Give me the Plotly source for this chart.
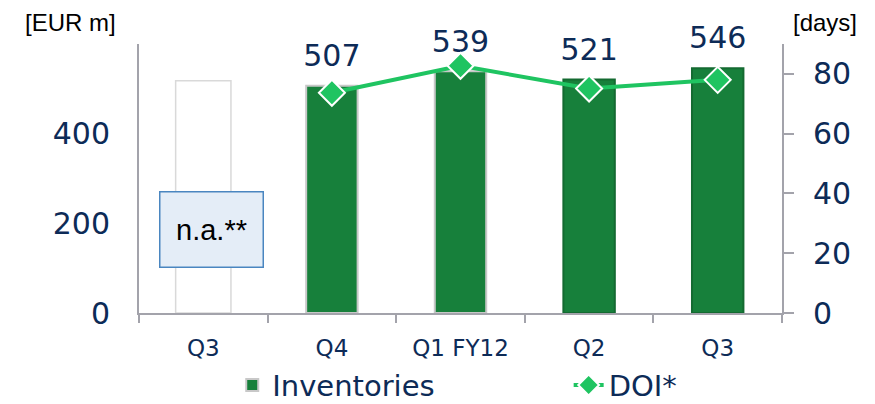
import plotly.graph_objects as go

# data
categories = ["Q3 FY11", "Q4", "Q1 FY12", "Q2", "Q3"]
tick_labels = ["Q3", "Q4", "Q1 FY12", "Q2", "Q3"]
inventories = [None, 507, 539, 521, 546]
placeholder = [518, None, None, None, None]
doi = [None, 73.7, 82.7, 75.1, 78.0]

NAVY = "#0d2b57"
GREEN = "#17803b"
LINE_GREEN = "#1fc461"
AXIS_GREY = "#a3a3ab"
FONT = "DejaVu Sans"
FONT2 = "Liberation Sans"

fig = go.Figure()

# empty frame for the n.a. quarter
fig.add_trace(go.Bar(
    x=categories, y=placeholder, width=0.43,
    marker=dict(color="rgba(255,255,255,0)", line=dict(color="#d9d9d9", width=1.5)),
    showlegend=False, hoverinfo="skip",
))

fig.add_trace(go.Bar(
    x=categories, y=inventories, width=0.4, name="Inventories" + " " * 14,
    marker=dict(color=GREEN,
                line=dict(color=["#c8c8c8", "#c8c8c8", "#c8c8c8", "#146a31", "#146a31"], width=2)),
))

# value labels above the bars
fig.add_trace(go.Scatter(
    x=categories, y=inventories, mode="markers+text",
    text=[None if v is None else str(v) for v in inventories],
    textposition="top center", cliponaxis=False,
    marker=dict(size=18, opacity=0),
    textfont=dict(size=30, color=NAVY, family=FONT),
    showlegend=False, hoverinfo="skip",
))

fig.add_trace(go.Scatter(
    x=categories, y=doi, name="DOI*", yaxis="y2",
    mode="lines+markers",
    line=dict(color=LINE_GREEN, width=4),
    marker=dict(symbol="diamond", size=20, color=LINE_GREEN, line=dict(color="white", width=2)),
))

# page body has an 8px margin, so the figure is 8px smaller than the window
fig.update_layout(
    width=867, height=396,
    margin=dict(l=131, r=93, t=36, b=91, autoexpand=False),
    paper_bgcolor="white", plot_bgcolor="white",
    font=dict(family=FONT, color=NAVY),
    barmode="overlay",
    legend=dict(orientation="h", x=0.145, xanchor="left", y=-0.268, yanchor="middle",
                font=dict(size=29, color=NAVY), borderwidth=0),
    xaxis=dict(
        type="category", categoryorder="array", categoryarray=categories,
        tickmode="array", tickvals=categories, ticktext=tick_labels,
        tickson="boundaries", ticks="outside", ticklen=8, tickcolor=AXIS_GREY, tickwidth=2,
        showline=True, linecolor=AXIS_GREY, linewidth=2,
        tickfont=dict(size=23, color=NAVY), showgrid=False, ticklabelstandoff=13,
    ),
    yaxis=dict(
        range=[0, 600], tickvals=[0, 200, 400], showgrid=False, zeroline=False,
        showline=True, linecolor=AXIS_GREY, linewidth=2,
        tickfont=dict(size=30, color=NAVY), ticklabelstandoff=21,
    ),
    yaxis2=dict(
        range=[0, 90], tickvals=[0, 20, 40, 60, 80], overlaying="y", side="right",
        showgrid=False, zeroline=False, showline=True, linecolor=AXIS_GREY, linewidth=2,
        ticks="outside", ticklen=10, tickcolor=AXIS_GREY, tickwidth=2,
        tickfont=dict(size=30, color=NAVY), ticklabelstandoff=13,
    ),
    annotations=[
        dict(text="[EUR m]", xref="paper", yref="paper", x=-0.107, y=1.08,
             xanchor="center", yanchor="middle",
             showarrow=False, font=dict(size=24, color="black", family=FONT2)),
        dict(text="[days]", xref="paper", yref="paper", x=1.067, y=1.08,
             xanchor="center", yanchor="middle",
             showarrow=False, font=dict(size=24, color="black", family=FONT2)),
        dict(text="n.a.**", xref="paper", yref="paper", x=0.1135, y=0.309,
             xanchor="center", yanchor="middle",
             showarrow=False, font=dict(size=29, color="black", family=FONT2),
             bgcolor="#e4edf7", bordercolor="#4a86c0", borderwidth=1.5,
             width=100, height=72),
    ],
)

fig.write_html("out.html")
